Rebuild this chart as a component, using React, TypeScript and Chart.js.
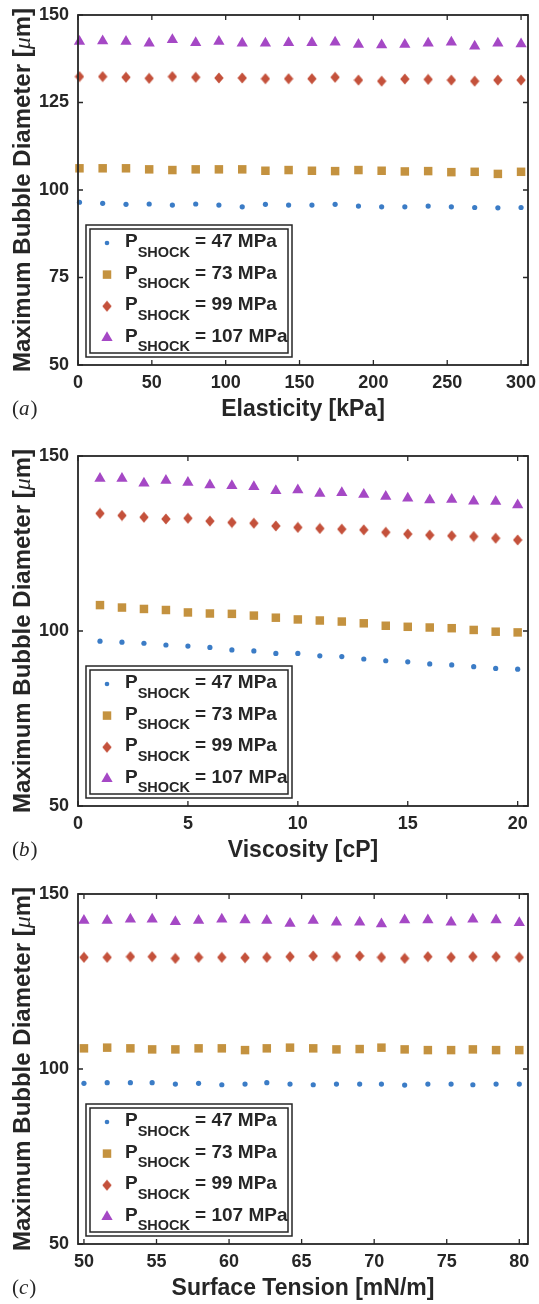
import React, { useEffect, useRef } from "react";
import { Chart, registerables } from "chart.js";

Chart.register(...registerables);

// ---------- data ----------
const elasticityKPa = [1, 16.7, 32.5, 48.2, 63.9, 79.7, 95.4, 111.2, 126.9, 142.6, 158.4, 174.1, 189.9, 205.6, 221.3, 237.1, 252.8, 268.6, 284.3, 300];
const viscosityCP = [1, 2, 3, 4, 5, 6, 7, 8, 9, 10, 11, 12, 13, 14, 15, 16, 17, 18, 19, 20];
const surfaceTensionMNm = [50, 51.6, 53.2, 54.7, 56.3, 57.9, 59.5, 61.1, 62.6, 64.2, 65.8, 67.4, 69.0, 70.5, 72.1, 73.7, 75.3, 76.8, 78.4, 80];

const shockLabels = ["= 47 MPa", "= 73 MPa", "= 99 MPa", "= 107 MPa"];

const elas47 = [96.5, 96.2, 95.9, 96.0, 95.7, 96.0, 95.7, 95.2, 95.9, 95.7, 95.7, 95.9, 95.4, 95.2, 95.2, 95.4, 95.2, 95.0, 94.9, 95.0];
const elas73 = [106.2, 106.2, 106.2, 105.9, 105.7, 105.9, 105.9, 105.9, 105.5, 105.7, 105.5, 105.4, 105.7, 105.5, 105.3, 105.4, 105.1, 105.2, 104.6, 105.2];
const elas99 = [132.4, 132.4, 132.2, 131.9, 132.4, 132.2, 132.0, 132.0, 131.8, 131.8, 131.8, 132.2, 131.4, 131.1, 131.7, 131.6, 131.4, 131.1, 131.4, 131.4];
const elas107 = [142.4, 142.6, 142.4, 141.9, 142.9, 142.1, 142.4, 141.9, 141.9, 142.1, 142.1, 142.2, 141.6, 141.4, 141.6, 141.9, 142.2, 141.1, 141.9, 141.7];

const visc47 = [97.1, 96.8, 96.5, 96.0, 95.7, 95.3, 94.6, 94.3, 93.6, 93.6, 92.9, 92.7, 92.0, 91.5, 91.2, 90.6, 90.3, 89.8, 89.3, 89.1];
const visc73 = [107.4, 106.7, 106.3, 106.0, 105.3, 105.0, 104.9, 104.4, 103.8, 103.3, 103.0, 102.7, 102.2, 101.5, 101.2, 101.0, 100.8, 100.3, 99.8, 99.6];
const visc99 = [133.6, 133.0, 132.5, 132.0, 132.2, 131.4, 131.0, 130.8, 130.0, 129.6, 129.3, 129.1, 128.9, 128.2, 127.7, 127.4, 127.2, 127.0, 126.5, 126.0];
const visc107 = [143.6, 143.6, 142.2, 143.0, 142.4, 141.7, 141.5, 141.2, 140.1, 140.3, 139.3, 139.5, 139.0, 138.4, 137.9, 137.4, 137.6, 137.1, 137.0, 136.0];

const surf47 = [95.9, 96.1, 96.1, 96.1, 95.7, 95.9, 95.5, 95.7, 96.1, 95.7, 95.5, 95.7, 95.7, 95.7, 95.4, 95.7, 95.7, 95.5, 95.7, 95.7];
const surf73 = [105.9, 106.1, 105.9, 105.6, 105.6, 105.9, 105.9, 105.4, 105.9, 106.1, 105.9, 105.6, 105.7, 106.1, 105.6, 105.4, 105.4, 105.6, 105.4, 105.4];
const surf99 = [131.9, 131.9, 132.1, 132.1, 131.6, 131.9, 131.9, 131.8, 131.9, 132.1, 132.3, 132.1, 132.3, 131.9, 131.6, 132.1, 131.9, 132.1, 132.1, 131.9];
const surf107 = [142.4, 142.4, 142.8, 142.8, 142.1, 142.4, 142.8, 142.6, 142.4, 141.6, 142.4, 141.9, 141.9, 141.4, 142.6, 142.6, 141.9, 142.8, 142.6, 141.8];

const elasXTicks = [0, 50, 100, 150, 200, 250, 300];
const elasYTicks = [50, 75, 100, 125, 150];
const viscXTicks = [0, 5, 10, 15, 20];
const viscYTicks = [50, 100, 150];
const surfXTicks = [50, 55, 60, 65, 70, 75, 80];
const surfYTicks = [50, 100, 150];

// ---------- styles ----------
const SANS = "'Liberation Sans', Arial, Helvetica, sans-serif";
const SERIF = "'Liberation Serif', 'Times New Roman', serif";
const INK = "#262626";
const COLORS = ["#3b7cc6", "#c4923f", "#c4513b", "#a548c5"];
const W = 539;
const AREA_LEFT = 78;
const PAD_RIGHT = 11;

function makeDiamond(color: string) {
  const c = document.createElement("canvas");
  c.width = 10;
  c.height = 12;
  const g = c.getContext("2d")!;
  g.fillStyle = color;
  g.beginPath();
  g.moveTo(5, 0.5);
  g.lineTo(9.7, 6);
  g.lineTo(5, 11.5);
  g.lineTo(0.3, 6);
  g.closePath();
  g.fill();
  return c;
}

type PanelProps = {
  top: number;
  height: number;
  areaTop: number;
  areaBottom: number;
  xs: number[];
  series: number[][];
  xTicks: number[];
  yTicks: number[];
  xMin: number;
  xMax: number;
  xTitle: string;
  tag: string;
};

function drawMarker(ctx: CanvasRenderingContext2D, i: number, x: number, y: number, diamond: HTMLCanvasElement) {
  ctx.save();
  ctx.fillStyle = COLORS[i];
  ctx.beginPath();
  if (i === 0) {
    ctx.arc(x, y, 2.3, 0, Math.PI * 2);
    ctx.fill();
  } else if (i === 1) {
    const s = 6 * Math.SQRT1_2;
    ctx.rect(x - s, y - s, 2 * s, 2 * s);
    ctx.fill();
  } else if (i === 2) {
    ctx.drawImage(diamond, x - diamond.width / 2, y - diamond.height / 2);
  } else {
    const r = 6.5;
    ctx.moveTo(x, y - r);
    ctx.lineTo(x + r * Math.sin(Math.PI / 3), y + r / 2);
    ctx.lineTo(x - r * Math.sin(Math.PI / 3), y + r / 2);
    ctx.closePath();
    ctx.fill();
  }
  ctx.restore();
}

function Panel(p: PanelProps) {
  const ref = useRef<HTMLCanvasElement>(null);
  useEffect(() => {
    const canvas = ref.current!;
    const diamond = makeDiamond(COLORS[2]);
    const styles: any[] = ["circle", "rect", diamond, "triangle"];
    const radii = [2.6, 6, 6, 6.5];

    const overlay = {
      id: "overlay",
      afterDraw(chart: any) {
        const ctx: CanvasRenderingContext2D = chart.ctx;
        const ca = chart.chartArea;
        const sx = chart.scales.x;
        const sy = chart.scales.y;
        ctx.save();
        // axes box
        ctx.strokeStyle = INK;
        ctx.lineWidth = 1.8;
        ctx.strokeRect(ca.left, ca.top, ca.right - ca.left, ca.bottom - ca.top);
        ctx.lineWidth = 1.3;
        ctx.beginPath();
        const tl = 5;
        for (const v of p.xTicks) {
          const px = sx.getPixelForValue(v);
          ctx.moveTo(px, ca.bottom);
          ctx.lineTo(px, ca.bottom - tl);
          ctx.moveTo(px, ca.top);
          ctx.lineTo(px, ca.top + tl);
        }
        for (const v of p.yTicks) {
          const py = sy.getPixelForValue(v);
          ctx.moveTo(ca.left, py);
          ctx.lineTo(ca.left + tl, py);
          ctx.moveTo(ca.right, py);
          ctx.lineTo(ca.right - tl, py);
        }
        ctx.stroke();

        // x title
        ctx.fillStyle = INK;
        ctx.font = `bold 23px ${SANS}`;
        ctx.textAlign = "center";
        ctx.textBaseline = "alphabetic";
        ctx.fillText(p.xTitle, (ca.left + ca.right) / 2, ca.bottom + 51);

        // y title (mixed fonts, rotated)
        const parts: [string, string][] = [
          ["Maximum Bubble Diameter [", `bold 24px ${SANS}`],
          ["\u03bc", `italic 24px ${SERIF}`],
          ["m]", `bold 24px ${SANS}`],
        ];
        let total = 0;
        const widths = parts.map(([t, f]) => {
          ctx.font = f;
          const w = ctx.measureText(t).width;
          total += w;
          return w;
        });
        ctx.save();
        ctx.translate(30, (ca.top + ca.bottom) / 2);
        ctx.rotate(-Math.PI / 2);
        ctx.textAlign = "left";
        let cx = -total / 2;
        parts.forEach(([t, f], i) => {
          ctx.font = f;
          ctx.fillText(t, cx, 0);
          cx += widths[i];
        });
        ctx.restore();

        // panel tag (a)/(b)/(c)
        ctx.textAlign = "left";
        const tagY = ca.bottom + 50;
        let tx = 12;
        ctx.font = `21px ${SERIF}`;
        ctx.fillText("(", tx, tagY);
        tx += ctx.measureText("(").width;
        ctx.font = `italic 21px ${SERIF}`;
        ctx.fillText(p.tag, tx, tagY);
        tx += ctx.measureText(p.tag).width + 1;
        ctx.font = `21px ${SERIF}`;
        ctx.fillText(")", tx, tagY);

        // legend
        const lx = ca.left + 8;
        const ly = ca.top + 210;
        const lw = 206;
        const lh = 132;
        ctx.fillStyle = "#ffffff";
        ctx.fillRect(lx, ly, lw, lh);
        ctx.strokeStyle = INK;
        ctx.lineWidth = 1.5;
        ctx.strokeRect(lx, ly, lw, lh);
        ctx.strokeRect(lx + 4, ly + 4, lw - 8, lh - 8);
        for (let i = 0; i < 4; i++) {
          const base = ly + 22 + i * 31.6;
          drawMarker(ctx, i, lx + 21, base - 4, diamond);
          ctx.fillStyle = INK;
          ctx.font = `bold 19px ${SANS}`;
          const px0 = lx + 39;
          ctx.fillText("P", px0, base);
          const pw = ctx.measureText("P").width;
          ctx.font = `bold 14.5px ${SANS}`;
          ctx.fillText("SHOCK", px0 + pw, base + 9.5);
          const sw = ctx.measureText("SHOCK").width;
          ctx.font = `bold 19px ${SANS}`;
          ctx.fillText(shockLabels[i], px0 + pw + sw + 5, base);
        }
        ctx.restore();
      },
    };

    const chart = new Chart(canvas, {
      type: "scatter",
      data: {
        datasets: p.series.map((ys, i) => ({
          label: shockLabels[i],
          data: p.xs.map((x, j) => ({ x, y: ys[j] })),
          pointStyle: styles[i],
          pointRadius: radii[i],
          backgroundColor: COLORS[i],
          borderColor: COLORS[i],
          borderWidth: 0,
          showLine: false,
          clip: false as any,
        })),
      },
      options: {
        responsive: false,
        animation: false,
        events: [],
        layout: { padding: { top: p.areaTop, right: PAD_RIGHT, left: 0, bottom: 0 } },
        plugins: { legend: { display: false }, tooltip: { enabled: false } },
        scales: {
          x: {
            type: "linear",
            min: p.xMin,
            max: p.xMax,
            afterBuildTicks: (s: any) => {
              s.ticks = p.xTicks.map((v) => ({ value: v }));
            },
            afterFit: (s: any) => {
              s.height = p.height - p.areaBottom;
              s.paddingLeft = 0;
              s.paddingRight = 0;
            },
            grid: { display: false, drawTicks: false },
            border: { display: false },
            ticks: {
              font: { family: SANS, size: 18, weight: "bold" },
              color: INK,
              padding: 7,
              maxRotation: 0,
              autoSkip: false,
            },
          },
          y: {
            type: "linear",
            min: 50,
            max: 150,
            afterBuildTicks: (s: any) => {
              s.ticks = p.yTicks.map((v) => ({ value: v }));
            },
            afterFit: (s: any) => {
              s.width = AREA_LEFT;
              s.paddingTop = 0;
              s.paddingBottom = 0;
            },
            grid: { display: false, drawTicks: false },
            border: { display: false },
            ticks: {
              font: { family: SANS, size: 18, weight: "bold" },
              color: INK,
              padding: 9,
              autoSkip: false,
            },
          },
        },
      } as any,
      plugins: [overlay],
    });
    return () => chart.destroy();
  }, []);

  return (
    <canvas
      ref={ref}
      width={W}
      height={p.height}
      style={{ position: "absolute", left: 0, top: p.top, width: W, height: p.height, display: "block" }}
    />
  );
}

export default function App() {
  return (
    <div style={{ position: "absolute", left: 0, top: 0, width: W, height: 1304, background: "#ffffff", overflow: "hidden" }}>
      <Panel
        top={0}
        height={435}
        areaTop={15}
        areaBottom={365}
        xs={elasticityKPa}
        series={[elas47, elas73, elas99, elas107]}
        xTicks={elasXTicks}
        yTicks={elasYTicks}
        xMin={0}
        xMax={304.7}
        xTitle="Elasticity [kPa]"
        tag="a"
      />
      <Panel
        top={435}
        height={440}
        areaTop={21}
        areaBottom={371}
        xs={viscosityCP}
        series={[visc47, visc73, visc99, visc107]}
        xTicks={viscXTicks}
        yTicks={viscYTicks}
        xMin={0}
        xMax={20.47}
        xTitle="Viscosity [cP]"
        tag="b"
      />
      <Panel
        top={875}
        height={429}
        areaTop={19}
        areaBottom={369}
        xs={surfaceTensionMNm}
        series={[surf47, surf73, surf99, surf107]}
        xTicks={surfXTicks}
        yTicks={surfYTicks}
        xMin={49.59}
        xMax={80.6}
        xTitle="Surface Tension [mN/m]"
        tag="c"
      />
    </div>
  );
}
